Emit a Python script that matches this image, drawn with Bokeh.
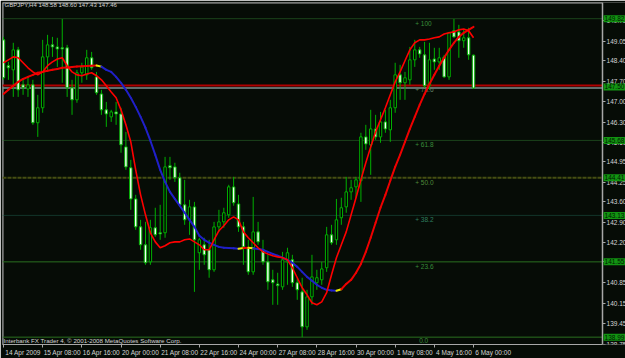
from bokeh.plotting import figure
from bokeh.models import (ColumnDataSource, Range1d, FixedTicker, Label,
                          PrintfTickFormatter)
from bokeh.embed import file_html
from bokeh.resources import INLINE
from bokeh.core.properties import value

# ---------------- data (GBPJPY, H4) ----------------
bars = list(range(97))
opens = [
    149.10, 148.22, 148.08, 148.76, 147.57, 147.43, 147.57, 146.28, 146.79, 148.52,
    148.93, 148.86, 148.83, 148.83, 147.47, 147.06, 147.98, 147.91, 148.49, 147.84,
    147.26, 146.72, 146.48, 146.65, 146.58, 145.46, 144.75, 143.69, 142.74, 142.13,
    141.55, 142.71, 142.54, 142.54, 144.82, 144.78, 144.41, 143.49, 142.98, 143.42,
    141.86, 142.13, 141.96, 141.28, 142.74, 142.91, 143.15, 144.10, 143.52, 142.74,
    142.03, 141.21, 142.57, 141.96, 141.55, 140.94, 140.80, 140.70, 141.55, 141.62,
    140.84, 140.53, 139.34, 140.36, 140.84, 140.94, 141.35, 142.47, 142.30, 143.05,
    143.42, 143.93, 144.10, 144.31, 145.80, 145.53, 146.07, 145.80, 146.31, 146.04,
    146.79, 147.91, 147.64, 147.74, 148.42, 148.76, 148.59, 147.54, 148.45, 148.35,
    148.52, 147.84, 149.41, 149.37, 149.07, 149.17, 148.58]
highs = [
    149.20, 148.35, 149.00, 148.86, 147.74, 147.84, 147.74, 147.23, 149.10, 149.27,
    149.20, 149.17, 149.81, 148.93, 147.74, 148.08, 148.32, 148.76, 148.69, 148.01,
    147.40, 146.99, 146.72, 146.99, 146.79, 145.97, 145.02, 143.83, 142.98, 142.91,
    142.98, 143.39, 143.49, 145.12, 145.12, 144.92, 144.58, 144.34, 143.66, 143.59,
    142.37, 142.37, 142.30, 142.91, 143.32, 143.39, 144.17, 144.44, 143.83, 142.91,
    142.30, 143.76, 142.91, 142.30, 141.79, 141.28, 141.18, 141.89, 142.03, 141.79,
    141.01, 141.01, 140.60, 141.79, 141.28, 141.55, 142.74, 142.81, 143.69, 143.73,
    144.44, 144.34, 144.44, 145.94, 146.21, 146.72, 146.55, 146.65, 146.72, 147.06,
    148.32, 148.25, 148.01, 148.86, 149.10, 148.86, 149.03, 149.00, 148.83, 148.83,
    148.59, 149.37, 149.81, 149.61, 149.44, 149.51, 148.60]
lows = [
    147.74, 147.74, 147.16, 147.16, 147.23, 147.16, 146.21, 145.80, 146.62, 148.08,
    148.52, 148.18, 147.64, 147.16, 146.55, 146.96, 147.64, 147.74, 148.08, 147.23,
    146.55, 146.14, 146.31, 146.21, 145.26, 144.68, 143.32, 142.64, 141.96, 141.45,
    141.45, 142.40, 142.30, 142.37, 144.34, 144.27, 143.42, 142.81, 142.47, 140.53,
    141.28, 141.45, 141.01, 141.21, 142.57, 142.71, 143.05, 143.46, 142.57, 141.45,
    141.11, 141.11, 142.13, 141.45, 140.60, 140.09, 140.09, 140.60, 140.77, 140.70,
    140.26, 138.99, 139.24, 140.09, 140.60, 140.77, 141.21, 142.13, 142.13, 142.81,
    143.22, 143.66, 143.73, 143.59, 145.36, 144.51, 145.70, 145.60, 145.94, 145.63,
    146.62, 147.06, 147.06, 147.57, 148.18, 148.49, 147.47, 147.40, 148.08, 148.08,
    147.81, 147.74, 149.17, 148.49, 148.83, 148.42, 147.43]
closes = [
    147.81, 148.15, 148.76, 147.40, 147.47, 147.57, 146.28, 146.79, 148.52, 148.93,
    148.86, 148.79, 148.79, 147.47, 147.06, 147.98, 148.18, 148.49, 148.15, 147.30,
    146.72, 146.58, 146.65, 146.58, 145.53, 144.78, 143.69, 142.74, 142.13, 141.52,
    142.71, 142.47, 142.50, 144.78, 144.75, 144.41, 143.49, 142.98, 143.42, 142.30,
    142.30, 141.79, 141.28, 142.74, 142.91, 143.22, 144.10, 143.56, 142.74, 142.06,
    141.21, 142.57, 142.23, 141.55, 140.87, 140.84, 140.74, 141.62, 141.86, 140.84,
    140.60, 139.34, 140.36, 141.04, 141.01, 141.31, 142.47, 142.20, 142.98, 143.39,
    143.93, 144.07, 144.34, 145.80, 145.56, 146.07, 145.80, 146.31, 146.07, 146.79,
    147.91, 147.64, 147.81, 148.42, 148.76, 148.62, 147.54, 148.42, 148.35, 148.49,
    147.84, 149.34, 149.20, 149.07, 149.17, 148.59, 147.46]
fast_ma = [
    148.32, 148.42, 148.52, 148.49, 148.32, 148.15, 148.01, 147.91, 148.01, 148.22,
    148.35, 148.45, 148.49, 148.22, 148.01, 147.91, 147.88, 147.94, 147.98, 147.88,
    147.74, 147.54, 147.33, 147.13, 146.72, 146.21, 145.63, 144.68, 143.83, 143.15,
    142.54, 142.23, 142.03, 142.10, 142.20, 142.23, 142.23, 142.30, 142.33, 142.23,
    142.13, 141.96, 141.96, 142.30, 142.61, 142.78, 142.98, 143.08, 142.98, 142.57,
    142.37, 142.20, 142.03, 141.89, 141.82, 141.76, 141.72, 141.69, 141.62, 141.35,
    141.01, 140.67, 140.43, 140.16, 140.09, 140.19, 140.50, 141.11, 141.69, 142.13,
    142.57, 143.15, 143.73, 144.34, 144.92, 145.46, 145.97, 146.38, 146.79, 147.23,
    147.67, 148.01, 148.39, 148.76, 149.00, 149.10, 149.10, 149.13, 149.17, 149.20,
    149.30, 149.34, 149.37, 149.44, 149.47, 149.41, 149.17]
slow_ma = [
    147.26, 147.40, 147.54, 147.67, 147.77, 147.84, 147.91, 147.98, 148.01, 148.05,
    148.08, 148.11, 148.15, 148.16, 148.18, 148.19, 148.20, 148.21, 148.22, 148.23,
    148.19, 148.08, 148.01, 147.84, 147.64, 147.40, 147.13, 146.82, 146.48, 146.11,
    145.67, 145.19, 144.68, 144.27, 143.93, 143.69, 143.46, 143.22, 142.98, 142.74,
    142.44, 142.30, 142.20, 142.13, 142.06, 142.03, 142.02, 142.01, 142.00, 142.02,
    142.03, 142.01, 141.99, 141.96, 141.89, 141.82, 141.76, 141.69, 141.62, 141.52,
    141.38, 141.21, 141.04, 140.91, 140.77, 140.67, 140.60, 140.58, 140.57, 140.62,
    140.80, 140.94, 141.18, 141.48, 141.89, 142.37, 142.88, 143.39, 143.83, 144.31,
    144.78, 145.19, 145.63, 146.07, 146.48, 146.89, 147.26, 147.60, 147.91, 148.22,
    148.49, 148.76, 149.00, 149.20, 149.34, 149.44, 149.54]

date_tick_bars = [0, 8, 16, 24, 32, 40, 48, 56, 64, 72, 80, 88, 96]
date_tick_labels = ["14 Apr 2009", "15 Apr 08:00", "16 Apr 16:00", "20 Apr 00:00",
                    "21 Apr 08:00", "22 Apr 16:00", "24 Apr 00:00", "27 Apr 08:00",
                    "28 Apr 16:00", "30 Apr 00:00", "1 May 08:00", "4 May 16:00",
                    "6 May 00:00"]
price_ticks = [138.75, 139.45, 140.15, 140.85, 141.55, 142.20, 142.90, 143.60,
               144.25, 144.95, 145.60, 146.30, 147.00, 147.70, 148.40, 149.05, 149.75]

fib_names = ["+ 100", "+ 78.6", "+ 61.8", "+ 50.0", "+ 38.2", "+ 23.6", "0.0"]
fib_levels = [149.82, 147.55, 145.68, 144.41, 143.13, 141.55, 138.99]
box_prices = [149.82, 147.50, 145.68, 144.41, 143.13, 141.55, 138.99]
bid_price = 147.46
title_text = "GBPJPY,H4  148.58 148.60 147.43 147.46"
footer_text = "Interbank FX Trader 4, \u00a9 2001-2008 MetaQuotes Software Corp."

# ---------------- styles / layout ----------------
BG = "#060c06"
AX = "#a8a8a8"
TXT = "#d4d4d4"
CANDLE_LINE = "#00b000"
FONT = "Liberation Sans"
X0 = -0.204          # left edge of the chart window (in bars)
X_AXIS = 122.35      # where the price scale sits (in bars)
X1 = 127.04          # right edge of the canvas (in bars)
Y0, Y1 = 138.74, 150.37
fib_colors = ["#2f7a2f", "#b00000", "#2f7a2f", "#454e12", "#1f5e4c", "#2a7020", "#2a7020"]
fib_dash = ["1 1", "solid", "1 1", "4 1", "1 1", "solid", "solid"]
fib_width = [1, 2, 1, 2, 1, 1, 1]
fib_text_colors = ["#3a8c3a", "#5f7f5f", "#3a8c3a", "#4f8a3a", "#2f7f5f", "#3a8c3a", "#3a8c3a"]

p = figure(width=625, height=358, output_backend="svg", toolbar_location=None,
           x_range=Range1d(X0, X1), y_range=Range1d(Y0, Y1),
           y_axis_location="right",
           min_border_left=2, min_border_top=2, min_border_right=0, min_border_bottom=12,
           background_fill_color=BG, border_fill_color=BG)
p.grid.visible = False
p.outline_line_color = None

# window border (top / left)
p.segment(x0=[X0, X0], y0=[Y1, Y0], x1=[X_AXIS, X0], y1=[Y1, Y1],
          line_color=AX, line_width=2)

# fib / horizontal lines
for lvl, c, d, w in zip(fib_levels, fib_colors, fib_dash, fib_width):
    p.segment(x0=[X0], y0=[lvl], x1=[X_AXIS], y1=[lvl], line_color=c,
              line_dash=d, line_width=w)
p.segment(x0=[X0], y0=[bid_price], x1=[X_AXIS], y1=[bid_price],
          line_color="#7d8f8f", line_width=1.5)

fib_x = [84.1] * len(fib_levels)
fib_x[-1] = 84.9
p.text(x=fib_x, y=fib_levels, text=fib_names, text_color=fib_text_colors,
       text_font=value(FONT), text_font_size="6.5px", text_baseline="top",
       y_offset=1)

# candles
tops = [max(o, c) for o, c in zip(opens, closes)]
bots = [min(o, c) for o, c in zip(opens, closes)]
fills = ["#f2fff2" if c < o else "#000000" for o, c in zip(opens, closes)]
src = ColumnDataSource(dict(x=bars, high=highs, low=lows, top=tops, bottom=bots, fill=fills))
p.segment(x0="x", y0="low", x1="x", y1="high", line_color=CANDLE_LINE, line_width=1, source=src)
p.vbar(x="x", width=0.5, top="top", bottom="bottom", fill_color="fill",
       line_color=CANDLE_LINE, line_width=1, source=src)

# slow MA coloured by direction
seg_colors = []
prev_dir = None
for i in range(len(slow_ma) - 1):
    d = "up" if slow_ma[i + 1] > slow_ma[i] else "down"
    col = "#ee0000" if d == "up" else "#2020c8"
    if prev_dir is not None and d != prev_dir:
        col = "#e8e800"
    seg_colors.append(col)
    prev_dir = d
p.segment(x0=bars[:-1], y0=slow_ma[:-1], x1=bars[1:], y1=slow_ma[1:],
          line_color=seg_colors, line_width=2, line_cap="round")

# fast MA
p.line(bars, fast_ma, line_color="#ff0000", line_width=1.6)

# bottom axis
xa = p.xaxis[0]
xa.ticker = FixedTicker(ticks=[b + 4 for b in date_tick_bars], minor_ticks=date_tick_bars)
xa.major_label_overrides = {b + 4: lab for b, lab in zip(date_tick_bars, date_tick_labels)}
xa.bounds = (X0, X_AXIS)
xa.major_tick_in = 0
xa.major_tick_out = 0
xa.minor_tick_in = 0
xa.minor_tick_out = 3
xa.minor_tick_line_color = AX
xa.axis_line_color = AX
xa.major_label_text_color = TXT
xa.major_label_text_font = FONT
xa.major_label_text_font_size = "6.5px"
xa.major_label_standoff = 1

# price scale on the right
ya = p.yaxis[0]
ya.fixed_location = X_AXIS
ya.ticker = FixedTicker(ticks=price_ticks, minor_ticks=[])
ya.formatter = PrintfTickFormatter(format="%.2f")
ya.major_tick_in = 0
ya.major_tick_out = 3
ya.major_tick_line_color = AX
ya.minor_tick_line_color = None
ya.axis_line_color = AX
ya.axis_line_width = 1.5
ya.major_label_text_color = TXT
ya.major_label_text_font = FONT
ya.major_label_text_font_size = "6.5px"
ya.major_label_standoff = 1

# price boxes on the scale
for bp in box_prices:
    p.add_layout(Label(x=X_AXIS + 0.2, y=bp, x_units="data", y_units="data",
                       text=f"{bp:.2f}", text_font=FONT, text_font_size="6.5px",
                       text_color="#001800", text_baseline="middle", text_align="left",
                       background_fill_color="#129412", background_fill_alpha=1.0,
                       padding=1))

# title & footer
p.add_layout(Label(x=2, y=343, x_units="screen", y_units="screen", text=title_text,
                   text_font=FONT, text_font_size="6px", text_color=TXT,
                   text_baseline="top", text_align="left"))
p.add_layout(Label(x=1, y=1, x_units="screen", y_units="screen", text=footer_text,
                   text_font=FONT, text_font_size="6.2px", text_color=TXT,
                   text_baseline="bottom", text_align="left"))

open("out.html", "w").write(file_html(p, INLINE))
